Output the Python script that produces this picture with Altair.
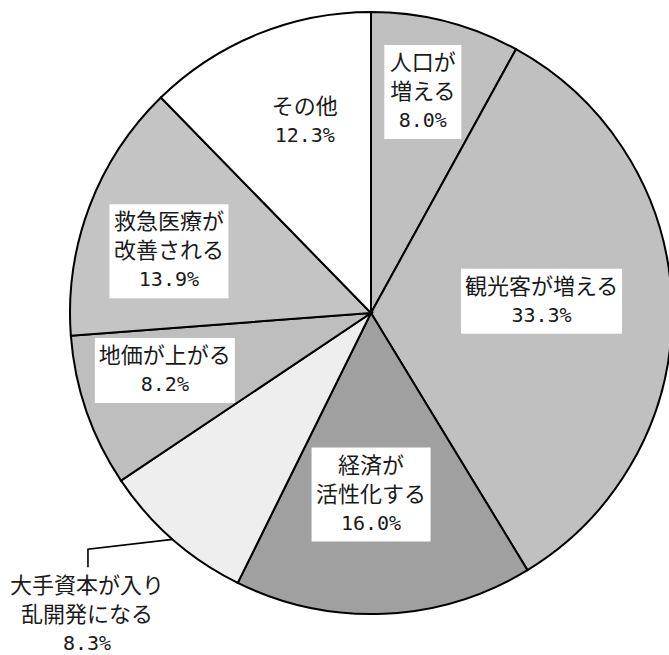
import math
import altair as alt
import pandas as pd

# ---- data ----
categories = ["人口が増える", "観光客が増える", "経済が活性化する", "大手資本が入り乱開発になる",
              "地価が上がる", "救急医療が改善される", "その他"]
label_lines = [["人口が", "増える"], ["観光客が増える"], ["経済が", "活性化する"],
               ["大手資本が入り", "乱開発になる"], ["地価が上がる"], ["救急医療が", "改善される"], ["その他"]]
shares = [8.0, 33.3, 16.0, 8.3, 8.2, 13.9, 12.3]

# ---- styles / layout ----
fills = ["#c0c0c0", "#c0c0c0", "#a0a0a0", "#eeeeee", "#bebebe", "#c4c4c4", "#ffffff"]
boxed = [True, True, True, False, True, True, False]
# label placement: (angle offset from slice middle in degrees, radius as fraction of pie radius)
label_polar = [(-1.2, 0.754), (-2.7, 0.568), (2.5, 0.603), (2.0, 1.378),
               (3.5, 0.711), (-3.7, 0.702), (3.1, 0.674)]
W, H = 669, 655
CX, CY, R = 371, 313, 301
LH = 29
CHAR_W = 21
FONT_JP = "Noto Sans CJK JP"
FONT_NUM = "DejaVu Sans Mono"

total = sum(shares)
pie_df = pd.DataFrame({"idx": list(range(len(shares))), "cat": categories,
                       "share": shares, "fill": fills})

text_rows, box_rows, leader_rows = [], [], []
cum = 0.0
for i, v in enumerate(shares):
    mid = (cum + v / 2) / total * 2 * math.pi
    cum += v
    off, rf = label_polar[i]
    a = mid + math.radians(off)
    cx = CX + rf * R * math.sin(a)
    cy = CY - rf * R * math.cos(a)
    lines = label_lines[i] + [f"{v:.1f}%"]
    n = len(lines)
    ys = [cy + (k - (n - 1) / 2) * LH for k in range(n)]
    for k, t in enumerate(lines):
        text_rows.append({"x": cx, "y": ys[k], "t": t, "kind": "pct" if k == n - 1 else "name"})
    if boxed[i]:
        maxc = max(len(s) for s in label_lines[i])
        bw = maxc * CHAR_W + 14
        bh = n * LH + 7
        box_rows.append({"x": cx - bw / 2, "x2": cx + bw / 2, "y": cy - bh / 2, "y2": cy + bh / 2})
    if rf > 1:
        sx = CX + R * math.sin(mid)
        sy = CY - R * math.cos(mid)
        leader_rows += [
            {"seq": 0, "x": sx, "y": sy},
            {"seq": 1, "x": cx + 1, "y": ys[0] - 37},
            {"seq": 2, "x": cx + 1, "y": ys[0] - 19},
        ]

text_df = pd.DataFrame(text_rows)
box_df = pd.DataFrame(box_rows)
leader_df = pd.DataFrame(leader_rows)

pie = alt.Chart(pie_df).mark_arc(stroke="black", strokeWidth=2, radius=R).encode(
    theta=alt.Theta("share:Q", stack=True),
    order=alt.Order("idx:Q", sort="ascending"),
    fill=alt.Fill("fill:N", scale=None),
    x=alt.value(CX),
    y=alt.value(CY),
)

boxes = alt.Chart(box_df).mark_rect(fill="white", stroke=None).encode(
    x=alt.X("x:Q", scale=None, axis=None),
    x2="x2:Q",
    y=alt.Y("y:Q", scale=None, axis=None),
    y2="y2:Q",
)

leader = alt.Chart(leader_df).mark_line(color="black", strokeWidth=1.6).encode(
    x=alt.X("x:Q", scale=None, axis=None),
    y=alt.Y("y:Q", scale=None, axis=None),
    order=alt.Order("seq:Q"),
)

names = alt.Chart(text_df).transform_filter(alt.datum.kind == "name").mark_text(
    font=FONT_JP, fontSize=22, color="#1a1a1a", align="center", baseline="middle"
).encode(
    x=alt.X("x:Q", scale=None, axis=None),
    y=alt.Y("y:Q", scale=None, axis=None),
    text="t:N",
)

pcts = alt.Chart(text_df).transform_filter(alt.datum.kind == "pct").mark_text(
    font=FONT_NUM, fontSize=20, color="#1a1a1a", align="center", baseline="middle"
).encode(
    x=alt.X("x:Q", scale=None, axis=None),
    y=alt.Y("y:Q", scale=None, axis=None),
    text="t:N",
)

chart = alt.layer(pie, leader, boxes, names, pcts).properties(
    width=W, height=H, padding=0, autosize=alt.AutoSizeParams(type="none"),
    background="white",
).configure_view(stroke=None)

chart.save("out.html", embed_options={"renderer": "svg", "actions": False})
